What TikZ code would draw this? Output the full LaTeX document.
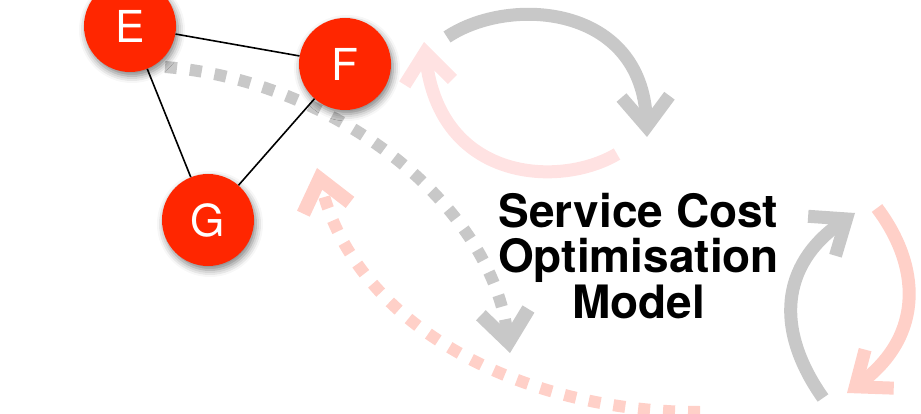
\documentclass[tikz,border=0pt]{standalone}
\usepackage{fontspec}
\setmainfont{TeX Gyre Heros}
\usepackage{tikz}
\usetikzlibrary{arrows.meta, shadows.blur}
\usepackage{xcolor}
\definecolor{nodered}{RGB}{255,38,0}
\definecolor{arcgray}{RGB}{200,200,200}
\definecolor{dotpink}{RGB}{255,208,200}
\definecolor{palepink}{RGB}{255,226,226}

\begin{document}
\begin{tikzpicture}[x=1pt, y=-1pt,
    vertex/.style={circle, fill=nodered, minimum size=92pt, inner sep=0pt, text=white,
        font=\fontsize{44}{44}\selectfont,
        blur shadow={shadow xshift=2pt, shadow yshift=-4pt, shadow blur radius=7pt, shadow opacity=50}},
    cyclearc/.style={line width=13pt, -{Straight Barb[length=30pt, width=48pt]}},
    dotpath/.style={line width=12pt, dash pattern=on 12pt off 13pt,
        -{Straight Barb[length=30pt, width=48pt, line width=14pt]}}]
    \useasboundingbox (0,0) rectangle (921,414);

    % free ends of the connectors
    \coordinate (gfrom) at (165,67);
    \coordinate (gto) at (510,353);
    \coordinate (pfrom) at (700,412);
    \coordinate (pto) at (317,168);

    \draw[dotpath, arcgray] (gfrom) .. controls (330,80) and (490,200) .. (gto);
    \draw[dotpath, dotpink] (pfrom) .. controls (520,412) and (355,325) .. (pto);

    \node[vertex] (E) at (130,26) {E};
    \node[vertex] (F) at (345,64) {F};
    \node[vertex] (G) at (208,220) {G};
    \draw[line width=1.6pt] (E) -- (F);
    \draw[line width=1.6pt] (F) -- (G);
    \draw[line width=1.6pt] (G) -- (E);

    \node[font=\fontsize{46}{45.5}\selectfont\bfseries, align=center, inner sep=0pt]
        (model) at (638.5,256) {Service Cost\\Optimisation\\Model};

    % two cycles
    \draw[cyclearc, arcgray] (447,37) .. controls (510,-5) and (642,5) .. (647,137);
    \draw[cyclearc, palepink] (617,154) .. controls (560,188) and (440,182) .. (424,42);
    \draw[cyclearc, arcgray] (823,398) .. controls (775,330) and (780,265) .. (855,213);
    \draw[cyclearc, dotpink] (877,208) .. controls (920,265) and (925,335) .. (847,393);
\end{tikzpicture}
\end{document}
